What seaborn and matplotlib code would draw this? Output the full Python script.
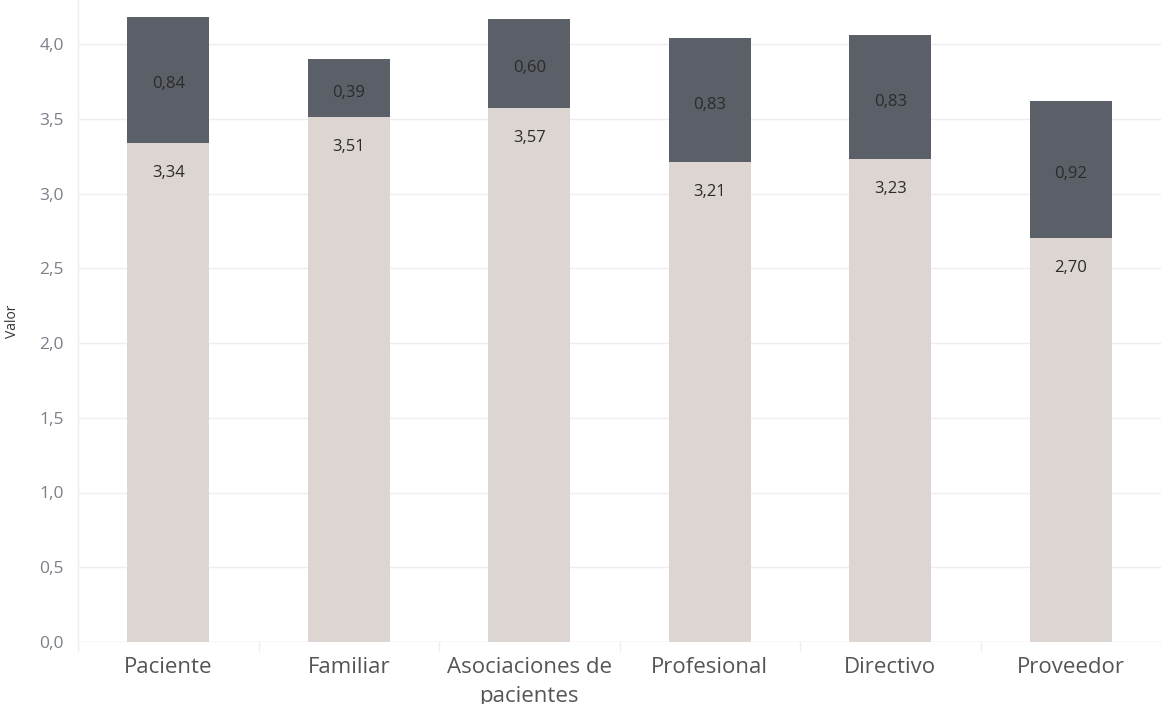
import matplotlib
matplotlib.use("Agg")
import matplotlib.pyplot as plt
import seaborn as sns
import pandas as pd
from matplotlib.lines import Line2D

categories = ["Paciente", "Familiar", "Asociaciones de\npacientes", "Profesional", "Directivo", "Proveedor"]
base_values = [3.34, 3.51, 3.57, 3.21, 3.23, 2.70]
top_values = [0.84, 0.39, 0.60, 0.83, 0.83, 0.92]
y_ticks = [0.0, 0.5, 1.0, 1.5, 2.0, 2.5, 3.0, 3.5, 4.0]

df = pd.DataFrame({"cat": categories, "base": base_values, "top": top_values})
df["total"] = df["base"] + df["top"]

sns.set_theme(style="white")
plt.rcParams["font.family"] = ["Open Sans", "DejaVu Sans"]

fig = plt.figure(figsize=(11.61, 7.04), dpi=100)
ax = fig.add_axes([78 / 1161, 62 / 704, 1 - 78 / 1161, 1 - 62 / 704])

dark = "#5b5f67"
light = "#dcd5d2"

sns.barplot(data=df, x="cat", y="total", color=dark, width=0.455, saturation=1, ax=ax, zorder=3, linewidth=0)
sns.barplot(data=df, x="cat", y="base", color=light, width=0.455, saturation=1, ax=ax, zorder=4, linewidth=0)

ax.set_ylim(0, 642 / 149.5)
ax.set_xlim(-0.5, len(categories) - 0.5)
ax.set_yticks(y_ticks)
ax.set_yticklabels([f"{v:.1f}".replace(".", ",") for v in y_ticks])
ax.yaxis.grid(True, color="#eeeeee", linewidth=1, zorder=0)
ax.xaxis.grid(False)

for s in ["top", "right", "bottom"]:
    ax.spines[s].set_visible(False)
ax.spines["left"].set_color("#eeeeee")
ax.spines["left"].set_linewidth(1)
ax.axhline(0, color="#eeeeee", linewidth=1, zorder=1)

ax.tick_params(axis="y", length=0, pad=10, labelsize=12.5, labelcolor="#7a7f88")
ax.tick_params(axis="x", length=0, pad=11, labelsize=16, labelcolor="#555555")
for lbl in ax.get_xticklabels():
    lbl.set_linespacing(1.5)
ax.set_xlabel("")
ax.set_ylabel("Valor", fontsize=10, color="#333333")
ax.yaxis.set_label_coords((20 - 78) / 1083, 0.5)

# category dividers below axis
for i in range(len(categories) + 1):
    xpos = i - 0.5
    ax.add_line(Line2D([xpos, xpos], [0, -0.06], color="#eeeeee", linewidth=1,
                       clip_on=False, transform=ax.transData))

def fmt(v):
    return f"{v:.2f}".replace(".", ",")

for i, (b, t) in enumerate(zip(base_values, top_values)):
    ax.text(i, b + t / 2 - 0.03, fmt(t), ha="center", va="center", fontsize=12, color="#2b2b2b", zorder=5)
    ax.text(i, b - 0.2, fmt(b), ha="center", va="center", fontsize=12, color="#2b2b2b", zorder=5)

fig.savefig("out.png", dpi=100)
